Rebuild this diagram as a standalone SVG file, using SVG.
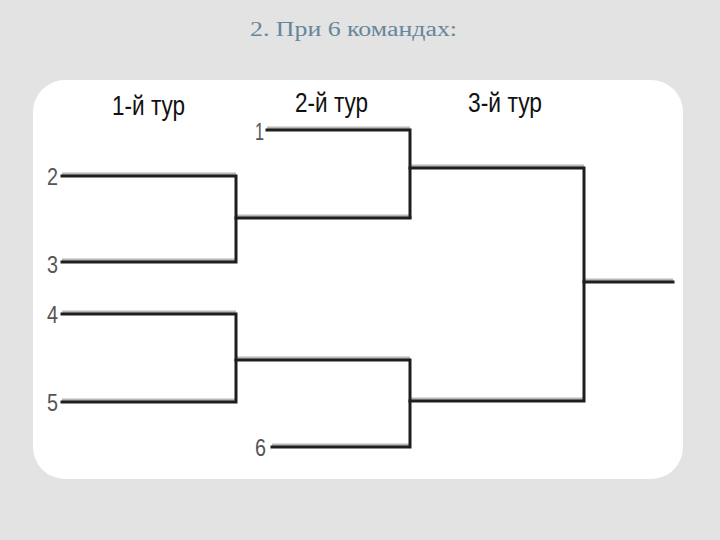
<svg xmlns="http://www.w3.org/2000/svg" width="720" height="540" viewBox="0 0 720 540">
<style>
.title{font-family:"Liberation Serif","DejaVu Serif",serif;font-size:20px;fill:#66879a}
.tur{font-family:"Liberation Sans",Arial,sans-serif;font-size:28px;fill:#111}
.num{font-family:"Liberation Sans",Arial,sans-serif;font-size:23px;fill:#555}
.ln{fill:none;stroke:#1e1e1e;stroke-width:3;stroke-linecap:square}
.sh{fill:none;stroke:#b8b8b8;stroke-width:3}
</style>
<rect x="0" y="0" width="720" height="540" fill="#e3e3e3"/>
<text class="title" x="250" y="36" textLength="207" lengthAdjust="spacingAndGlyphs">2. При 6 командах:</text>
<rect x="33" y="80" width="650" height="399" rx="32" ry="32" fill="#ffffff"/>
<g id="headers">
<text class="tur" x="112" y="115" textLength="73" lengthAdjust="spacingAndGlyphs">1-й тур</text>
<text class="tur" x="295" y="112" textLength="73" lengthAdjust="spacingAndGlyphs">2-й тур</text>
<text class="tur" x="468" y="112" textLength="74" lengthAdjust="spacingAndGlyphs">3-й тур</text>
</g>
<g id="team1"><text class="num" x="255" y="140" textLength="9" lengthAdjust="spacingAndGlyphs">1</text></g>
<g id="team2"><text class="num" x="47" y="185" textLength="11" lengthAdjust="spacingAndGlyphs">2</text></g>
<g id="team3"><text class="num" x="47" y="273" textLength="11" lengthAdjust="spacingAndGlyphs">3</text></g>
<g id="team4"><text class="num" x="47" y="323" textLength="11" lengthAdjust="spacingAndGlyphs">4</text></g>
<g id="team5"><text class="num" x="47" y="411" textLength="11" lengthAdjust="spacingAndGlyphs">5</text></g>
<g id="team6"><text class="num" x="255" y="456" textLength="11" lengthAdjust="spacingAndGlyphs">6</text></g>
<g id="connectors">
<g class="shadows">
<path class="sh" d="M62 174H236 M62 260H236 M236 216H410 M267 128H410 M410 166H584 M62 312H236 M62 400H236 M236 358H410 M272 445H410 M410 399H584 M584 280H673"/>
</g>
<path class="ln" d="M62 176H236V262H62"/>
<path class="ln" d="M236 218H410"/>
<path class="ln" d="M267 130H410V217"/>
<path class="ln" d="M410 168H584V401H410"/>
<path class="ln" d="M584 282H673"/>
<path class="ln" d="M62 314H236V402H62"/>
<path class="ln" d="M236 360H410V447H272"/>
</g>
</svg>
